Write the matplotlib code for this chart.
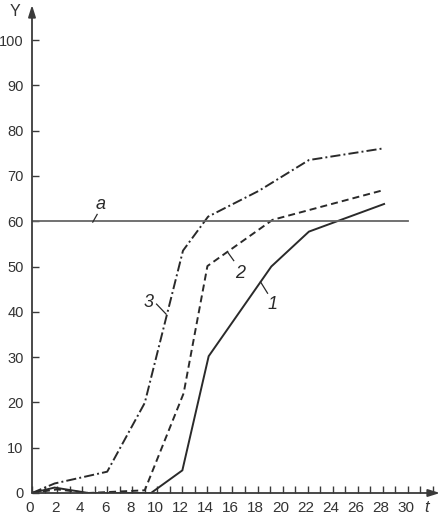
import matplotlib
matplotlib.use("Agg")
import matplotlib.pyplot as plt
from matplotlib.ticker import MultipleLocator
from matplotlib.transforms import ScaledTranslation

plt.rcParams['font.family'] = ['Liberation Sans', 'DejaVu Sans']

# data
t1 = [0, 1.8, 4.5, 9.5, 12, 14.1, 19.1, 22.1, 28.1]
y1 = [0, 1.2, 0, 0, 5, 30.2, 50, 57.7, 63.8]
t2 = [0, 2, 4.5, 9.0, 12.1, 14.0, 19.2, 28.1]
y2 = [0, 0.8, 0, 0.6, 22, 50.1, 60.3, 66.9]
t3 = [0, 1.8, 6.0, 9.0, 12.05, 14.05, 18.1, 22.1, 28.1]
y3 = [0, 2.1, 4.7, 19.9, 53.5, 61, 66.7, 73.5, 76.1]
level_a = 60
a_range = [0, 30]
x_ticks = list(range(0, 31, 2))
y_ticks = list(range(0, 101, 10))

W, H = 446, 514
fig = plt.figure(figsize=(W/100, H/100), dpi=100)
x0, xr, yb, yt = 32, 440, 493, 5
ax = fig.add_axes([x0/W, (H-yb)/H, (xr-x0)/W, (yb-yt)/H])
ax.set_xlim(0, (xr-x0)/12.53)
ax.set_ylim(0, (yb-yt)/4.53)

ink = '#2a2a2a'
ax.plot(t1, y1, color=ink, lw=1.4, solid_joinstyle='miter')
ax.plot(t2, y2, color=ink, lw=1.4, linestyle=(0, (3.6, 2.1)))
ax.plot(t3, y3, color=ink, lw=1.4, linestyle=(0, (5.2, 1.6, 1.0, 1.6)))
ax.plot(a_range, [level_a, level_a], color='#666666', lw=1.3)

for s in ax.spines.values():
    s.set_visible(False)
axc = '#3a3a3a'
ax.annotate('', xy=(1.0, 0), xytext=(0, 0), xycoords='axes fraction',
            arrowprops=dict(arrowstyle='-|>,head_length=0.7,head_width=0.22', color=axc, lw=1.3, shrinkA=0, shrinkB=0))
ax.annotate('', xy=(0, 1.0), xytext=(0, 0), xycoords='axes fraction',
            arrowprops=dict(arrowstyle='-|>,head_length=0.7,head_width=0.22', color=axc, lw=1.3, shrinkA=0, shrinkB=0))

ax.set_xticks(x_ticks)
ax.xaxis.set_minor_locator(MultipleLocator(1))
ax.set_yticks(y_ticks)
ax.set_yticklabels([str(v) for v in y_ticks])
ax.tick_params(axis='both', which='both', direction='in', length=5, width=1, color=axc,
               labelcolor='#333333')
ax.tick_params(axis='x', which='both', pad=6, labelsize=11)
ax.tick_params(axis='y', which='both', pad=6, labelsize=10.5)
ax.set_xlim(0, (xr-x0)/12.53)
off = ScaledTranslation(-2/100, 0, fig.dpi_scale_trans)
for lbl in ax.get_xticklabels():
    lbl.set_transform(lbl.get_transform() + off)

fig.text(15/W, 1-12/H, 'Y', fontsize=11.5, color='#333333', ha='center', va='center')
fig.text(427/W, 1-507/H, 't', fontsize=12, style='italic', color='#333333', ha='center', va='center')

lab = dict(fontsize=13, style='italic', color='#2a2a2a', ha='center', va='center')
ax.text(5.5, 63.6, 'a', **lab)
ax.plot([4.85, 5.2], [59.8, 61.5], color=ink, lw=0.9)
ax.text(9.28, 42.0, '3', **lab)
ax.plot([9.94, 10.7], [41.7, 39.5], color=ink, lw=0.9)
ax.text(16.64, 48.4, '2', **lab)
ax.plot([15.66, 16.1], [53.0, 51.3], color=ink, lw=0.9)
ax.text(19.2, 41.7, '1', **lab)
ax.plot([18.24, 18.8], [46.6, 44.1], color=ink, lw=0.9)

fig.savefig('out.png', dpi=100)
